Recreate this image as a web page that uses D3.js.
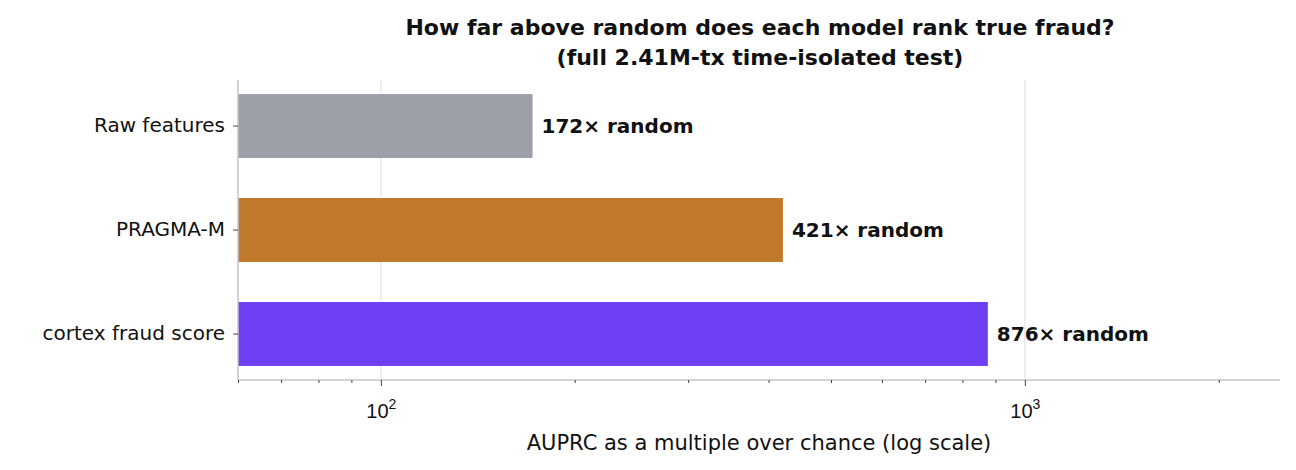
<!DOCTYPE html>
<html><head><meta charset="utf-8">
<script src="https://cdn.jsdelivr.net/npm/d3@7"></script>
<style>body{margin:0;background:#fff}svg{font-family:"DejaVu Sans",sans-serif}</style>
</head><body><svg id="c" width="1296" height="470"></svg>
<script>
const categories = ["Raw features","PRAGMA-M","cortex fraud score"];
const values = [172,421,876];
const colors = ["#9ca0a9","#c17a2c","#6e3ff5"];
const labels = ["172× random","421× random","876× random"];
const majorTicks = [100,1000];
const minorTicks = [60,70,80,90,200,300,400,500,600,700,800,900,2000];

const svg = d3.select("#c");
const L=238,R=1280,T=80,B=380;
const x = d3.scaleLog().domain([60,2490]).range([L,R]);
const y = d3.scaleBand().domain(categories).range([T,B]).paddingInner(0.385).paddingOuter(0.135);

svg.append("g").selectAll("line").data(majorTicks).join("line")
 .attr("x1",d=>x(d)).attr("x2",d=>x(d)).attr("y1",T).attr("y2",B)
 .attr("stroke","#e3e3ea").attr("stroke-width",1.2);

svg.append("g").selectAll("rect").data(values).join("rect")
 .attr("x",L).attr("y",(d,i)=>y(categories[i])).attr("width",d=>x(d)-L)
 .attr("height",y.bandwidth()).attr("fill",(d,i)=>colors[i]);

svg.append("g").selectAll("text").data(values).join("text")
 .attr("x",d=>x(d)+9).attr("y",(d,i)=>y(categories[i])+y.bandwidth()/2)
 .attr("dy","0.35em").attr("font-size",20).attr("font-weight","bold").attr("fill","#111")
 .text((d,i)=>labels[i]);

const ax="#c5c5d0";
svg.append("line").attr("x1",L).attr("x2",L).attr("y1",T).attr("y2",B).attr("stroke",ax).attr("stroke-width",1.5);
svg.append("line").attr("x1",L).attr("x2",R).attr("y1",B).attr("y2",B).attr("stroke",ax).attr("stroke-width",1.5);

const ya = svg.append("g").attr("transform",`translate(${L},0)`).call(d3.axisLeft(y).tickSize(5).tickPadding(8));
ya.select(".domain").remove();
ya.selectAll("line").attr("stroke","#444");
ya.selectAll("text").attr("font-size",20).attr("fill","#111").style("font-family","DejaVu Sans");

const xa = svg.append("g").attr("transform",`translate(0,${B})`).call(d3.axisBottom(x).tickValues(majorTicks).tickSize(6).tickPadding(8).tickFormat(()=>""));
xa.select(".domain").remove(); xa.selectAll("line").attr("stroke","#444");
xa.selectAll(".tick").append("text").attr("y",38).attr("text-anchor","middle").attr("font-size",20).attr("fill","#111")
 .html(d=>`10<tspan dy="-9" font-size="14">${Math.log10(d)}</tspan>`);
svg.append("g").attr("transform",`translate(0,${B})`).call(d3.axisBottom(x).tickValues(minorTicks).tickSize(3).tickFormat(()=>""))
 .call(g=>g.select(".domain").remove()).selectAll("line").attr("stroke","#444");

svg.append("text").attr("x",(L+R)/2).attr("y",450).attr("text-anchor","middle").attr("font-size",21).attr("fill","#111")
 .text("AUPRC as a multiple over chance (log scale)");
svg.append("text").attr("x",760).attr("y",35).attr("text-anchor","middle").attr("font-size",22).attr("font-weight","bold").attr("fill","#111")
 .text("How far above random does each model rank true fraud?");
svg.append("text").attr("x",760).attr("y",65).attr("text-anchor","middle").attr("font-size",22).attr("font-weight","bold").attr("fill","#111")
 .text("(full 2.41M-tx time-isolated test)");
</script></body></html>
